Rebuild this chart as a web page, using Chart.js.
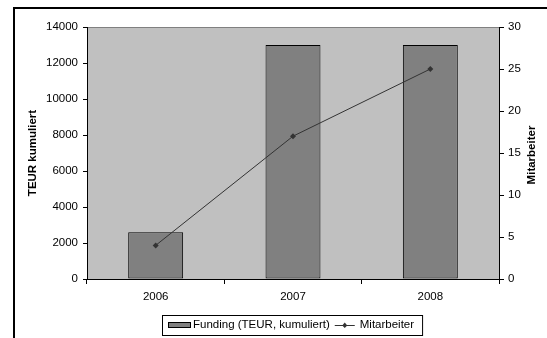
<!DOCTYPE html>
<html>
<head>
<meta charset="utf-8">
<script src="https://cdn.jsdelivr.net/npm/chart.js@4/dist/chart.umd.min.js"></script>
<style>
  html, body { margin: 0; padding: 0; background: #fff; }
  #wrap { width: 547px; height: 338px; }
</style>
</head>
<body>
<div id="wrap"><canvas id="c" width="547" height="338"></canvas></div>
<script>
const years = ['2006', '2007', '2008'];
const funding = [2600, 13000, 13000];
const mitarbeiter = [4, 17, 25];
const fundingLabel = 'Funding (TEUR, kumuliert)';
const staffLabel = 'Mitarbeiter';
const leftTitle = 'TEUR kumuliert';
const rightTitle = 'Mitarbeiter';

const FONT = "'Liberation Sans', Arial, sans-serif";
const TICK_SIZE = 11.5;
const TITLE_SIZE = 11.5;
const LEGEND_SIZE = 11.5;

// Frame, grey plot background, right axis title and boxed legend
const decor = {
  id: 'decor',
  beforeDraw(chart) {
    const { ctx, chartArea: a } = chart;
    ctx.save();
    ctx.fillStyle = '#fff';
    ctx.fillRect(0, 0, chart.width, chart.height);
    ctx.fillStyle = '#c0c0c0';
    ctx.fillRect(a.left, a.top, a.right - a.left, a.bottom - a.top);
    ctx.strokeStyle = '#808080';
    ctx.lineWidth = 1;
    ctx.beginPath();
    ctx.moveTo(a.left, a.top + 0.5);
    ctx.lineTo(a.right, a.top + 0.5);
    ctx.stroke();
    // outer frame
    ctx.strokeStyle = '#000';
    ctx.lineWidth = 2;
    ctx.beginPath();
    ctx.moveTo(14, chart.height);
    ctx.lineTo(14, 8);
    ctx.lineTo(chart.width, 8);
    ctx.stroke();
    ctx.restore();
  },
  afterDraw(chart) {
    const { ctx, chartArea: a } = chart;
    ctx.save();
    // right axis title, reading bottom to top
    ctx.font = 'bold ' + TITLE_SIZE + 'px ' + FONT;
    ctx.fillStyle = '#000';
    ctx.textAlign = 'center';
    ctx.textBaseline = 'middle';
    ctx.translate(532, (a.top + a.bottom) / 2 + 2);
    ctx.rotate(-Math.PI / 2);
    ctx.fillText(rightTitle, 0, 0);
    ctx.restore();

    // legend
    ctx.save();
    ctx.font = LEGEND_SIZE + 'px ' + FONT;
    ctx.textBaseline = 'middle';
    ctx.textAlign = 'left';
    const ds = chart.data.datasets;
    const y = 325;
    const w1 = ctx.measureText(ds[0].label).width;
    const w2 = ctx.measureText(ds[1].label).width;
    const boxL = 162, boxT = 315, boxH = 20;
    const boxW = 6 + 23 + 2 + w1 + 5 + 20 + 5 + w2 + 8;
    ctx.fillStyle = '#fff';
    ctx.fillRect(boxL, boxT, boxW, boxH);
    ctx.strokeStyle = '#000';
    ctx.lineWidth = 1;
    ctx.strokeRect(boxL + 0.5, boxT + 0.5, boxW, boxH);
    let x = boxL + 6;
    ctx.fillStyle = '#808080';
    ctx.fillRect(x, y - 3, 23, 6);
    ctx.strokeRect(x + 0.5, y - 2.5, 22, 5);
    x += 25;
    ctx.fillStyle = '#000';
    ctx.fillText(ds[0].label, x, y);
    x += w1 + 5;
    ctx.strokeStyle = '#333';
    ctx.beginPath();
    ctx.moveTo(x, y + 0.5);
    ctx.lineTo(x + 20, y + 0.5);
    ctx.stroke();
    ctx.fillStyle = '#333';
    ctx.beginPath();
    ctx.moveTo(x + 10, y - 2.5);
    ctx.lineTo(x + 12.5, y + 0.5);
    ctx.lineTo(x + 10, y + 3);
    ctx.lineTo(x + 7.5, y + 0.5);
    ctx.closePath();
    ctx.fill();
    x += 25;
    ctx.fillStyle = '#000';
    ctx.fillText(ds[1].label, x, y);
    ctx.restore();
  }
};

new Chart(document.getElementById('c'), {
  type: 'bar',
  data: {
    labels: years,
    datasets: [
      {
        type: 'bar',
        label: fundingLabel,
        data: funding,
        yAxisID: 'y',
        backgroundColor: '#808080',
        borderColor: '#000',
        borderWidth: 1,
        borderSkipped: false,
        categoryPercentage: 1,
        barPercentage: 0.4,
        order: 1
      },
      {
        type: 'line',
        label: staffLabel,
        data: mitarbeiter,
        yAxisID: 'y1',
        borderColor: '#333',
        borderWidth: 1,
        backgroundColor: '#333',
        pointStyle: 'rectRot',
        pointRadius: 3,
        pointBorderWidth: 0,
        tension: 0,
        order: 0
      }
    ]
  },
  options: {
    responsive: false,
    animation: false,
    events: [],
    layout: { padding: { top: 27, left: 0, right: 0, bottom: 0 } },
    plugins: {
      legend: { display: false },
      tooltip: { enabled: false }
    },
    scales: {
      x: {
        offset: true,
        grid: { offset: true, drawOnChartArea: false, drawTicks: true, tickLength: 5, color: '#000' },
        border: { display: true, color: '#000', width: 1 },
        ticks: { color: '#000', font: { family: FONT, size: TICK_SIZE }, padding: 6, maxRotation: 0 },
        afterFit(s) { s.height = 59; }
      },
      y: {
        position: 'left',
        min: 0,
        max: 14000,
        ticks: {
          stepSize: 2000,
          color: '#000',
          font: { family: FONT, size: TICK_SIZE },
          padding: 5,
          callback: (v) => String(v)
        },
        grid: { drawOnChartArea: false, tickLength: 4, color: '#000' },
        border: { display: true, color: '#000', width: 1 },
        title: {
          display: true,
          text: leftTitle,
          color: '#000',
          font: { family: FONT, size: TITLE_SIZE, weight: 'bold' },
          padding: { top: 26, bottom: 0 }
        },
        afterFit(s) { s.width = 87; }
      },
      y1: {
        position: 'right',
        min: 0,
        max: 30,
        ticks: {
          stepSize: 5,
          color: '#000',
          font: { family: FONT, size: TICK_SIZE },
          padding: 4,
          callback: (v) => String(v)
        },
        grid: { drawOnChartArea: false, tickLength: 5, color: '#000' },
        border: { display: true, color: '#000', width: 1 },
        afterFit(s) { s.width = 48; }
      }
    }
  },
  plugins: [decor]
});
</script>
</body>
</html>
